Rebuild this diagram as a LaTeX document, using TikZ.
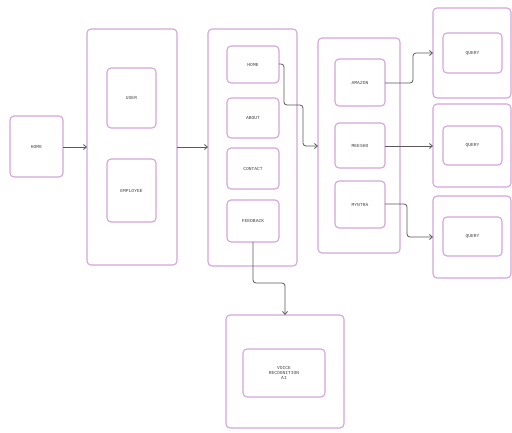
\documentclass[tikz,border=0pt]{standalone}
\usepackage{fontspec}
\setmonofont{Liberation Mono}
\usetikzlibrary{arrows.meta}
\definecolor{boxc}{HTML}{D6A3DD}
\definecolor{linec}{HTML}{5A5A5A}
\definecolor{txtc}{HTML}{444444}
\tikzset{
  pbox/.style={draw=boxc, line width=1.1pt, rounded corners=4pt, fill=white},
  lbl/.style={font=\ttfamily\fontsize{4.6}{5.2}\selectfont, text=txtc, align=center},
  conn/.style={draw=linec, line width=0.8pt, rounded corners=3pt, -{Straight Barb[length=3pt,width=5pt]}}
}
\begin{document}
\begin{tikzpicture}[x=1pt,y=-1pt]
\useasboundingbox[fill=white] (0,0) rectangle (512,432);
% outer containers
\draw[pbox] (87,29) rectangle (177,265) coordinate (b2se);
\node (b2) at (132,147) {};
\draw[pbox] (208,29) rectangle (297,266);
\draw[pbox] (318,38) rectangle (400,253);
\draw[pbox] (433,8) rectangle (511,98);
\draw[pbox] (433,104) rectangle (511,187);
\draw[pbox] (433,196) rectangle (511,278);
\draw[pbox] (226,315) rectangle (344,428);
% named anchors of containers
\coordinate (b2w) at (87,147);
\coordinate (b2e) at (177,147);
\coordinate (b3w) at (208,147);
\coordinate (b4w) at (318,146);
\coordinate (q1w) at (433,53);
\coordinate (q2w) at (433,146);
\coordinate (q3w) at (433,237);
\coordinate (b5n) at (285,315);
% inner boxes
\draw[pbox] (10,116) rectangle (63,177);
\node[lbl] (home) at (36.5,146.5) {HOME};
\draw[pbox] (107,68) rectangle (156,128);
\node[lbl] (user) at (131.5,98) {USER};
\draw[pbox] (107,159) rectangle (156,222);
\node[lbl] (emp) at (131.5,190.5) {EMPLOYEE};
\draw[pbox] (227,46) rectangle (279,83);
\node[lbl] (home2) at (253,64.5) {HOME};
\draw[pbox] (227,98) rectangle (279,138);
\node[lbl] (about) at (253,118) {ABOUT};
\draw[pbox] (227,148) rectangle (279,189);
\node[lbl] (contact) at (253,168.5) {CONTACT};
\draw[pbox] (227,200) rectangle (279,242);
\node[lbl] (feed) at (253,221) {FEEDBACK};
\draw[pbox] (335,59) rectangle (385,106);
\node[lbl] (amazon) at (360,82.5) {AMAZON};
\draw[pbox] (335,123) rectangle (385,168);
\node[lbl] (meesho) at (360,145.5) {MEESHO};
\draw[pbox] (335,181) rectangle (385,228);
\node[lbl] (myntra) at (360,204.5) {MYNTRA};
\draw[pbox] (443,33) rectangle (502,73);
\node[lbl] (q1) at (472.5,53) {QUERY};
\draw[pbox] (443,126) rectangle (502,165);
\node[lbl] (q2) at (472.5,145.5) {QUERY};
\draw[pbox] (443,217) rectangle (502,256);
\node[lbl] (q3) at (472.5,236.5) {QUERY};
\draw[pbox] (243,349) rectangle (325,397);
\node[lbl] (voice) at (284,373) {VOICE\\RECOGNITION\\AI};
% connectors
\draw[conn] (63,147) -- (b2w);
\draw[conn] (b2e) -- (b3w);
\draw[conn] (279,64) -- (284,64) -- (284,105) -- (303,105) -- (303,146) -- (b4w);
\draw[conn] (385,83) -- (413,83) -- (413,53) -- (q1w);
\draw[conn] (385,146) -- (q2w);
\draw[conn] (385,204) -- (407,204) -- (407,237) -- (q3w);
\draw[conn] (253,242) -- (253,283) -- (285,283) -- (b5n);
\end{tikzpicture}
\end{document}
